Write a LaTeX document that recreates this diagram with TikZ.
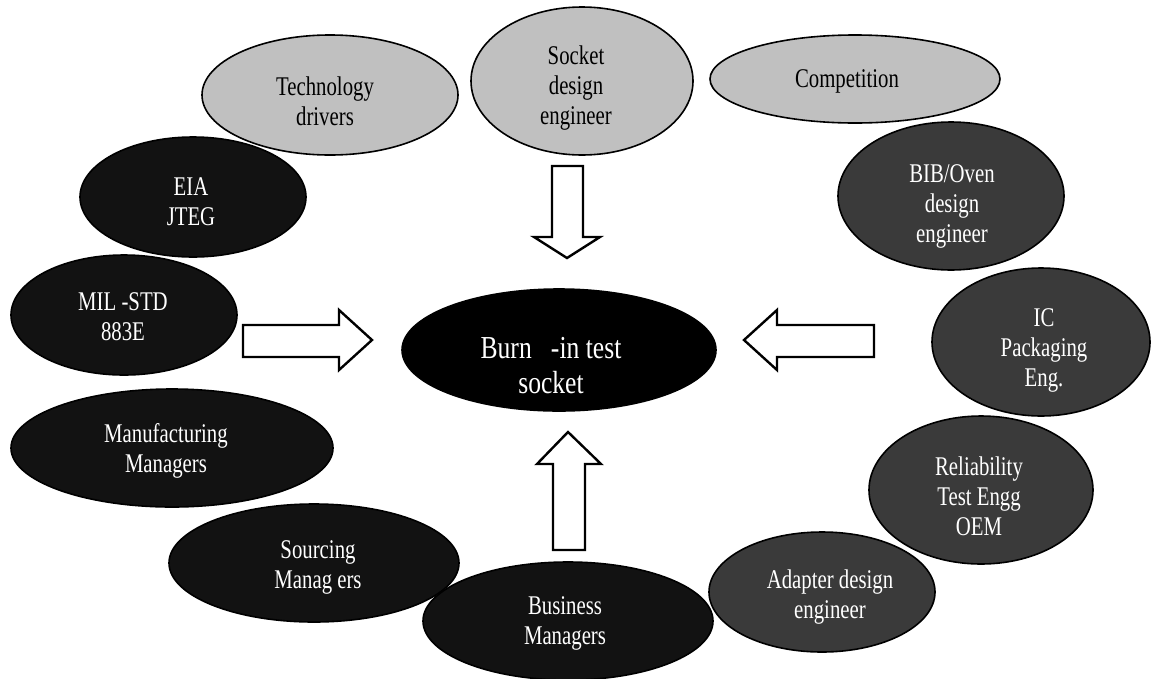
\documentclass[tikz,border=0pt]{standalone}
\usepackage{fontspec}
\setmainfont{Liberation Serif}
\newfontfamily\condfont[FakeStretch=0.77]{Liberation Serif}
\newfontfamily\bigcondfont[FakeStretch=0.8]{Liberation Serif}
\usetikzlibrary{shapes.geometric}
\definecolor{lgray}{RGB}{192,192,192}
\definecolor{dgray}{RGB}{58,58,58}
\definecolor{nblack}{RGB}{18,18,18}
\begin{document}
\begin{tikzpicture}[x=1pt,y=-1pt,
  ell/.style={ellipse, draw=black, line width=1.6pt, inner sep=0pt},
  lightell/.style={ell, fill=lgray},
  darkell/.style={ell, fill=dgray},
  blackell/.style={ell, fill=nblack},
  btxt/.style={align=center, inner sep=0pt, font=\condfont\fontsize{27}{30}\selectfont, text=black},
  wtxt/.style={btxt, text=white},
  bigtxt/.style={wtxt, font=\bigcondfont\fontsize{32}{35}\selectfont},
  blockarrow/.style={draw=black, fill=white, line width=2.4pt, line join=miter}
]
\useasboundingbox (0,0) rectangle (1151,678);
\fill[white] (0,0) rectangle (1151,678);

% top row (light gray)
\node[lightell, minimum width=256pt, minimum height=120pt] (tech) at (330,95) {};
\node[lightell, minimum width=222pt, minimum height=148pt] (socket) at (582,81) {};
\node[lightell, minimum width=290pt, minimum height=88pt] (comp) at (855,79) {};
% left column (black)
\node[blackell, minimum width=226pt, minimum height=120pt] (eia) at (193,197) {};
\node[blackell, minimum width=226pt, minimum height=120pt] (mil) at (124,315) {};
\node[blackell, minimum width=322pt, minimum height=118pt] (manuf) at (172,448) {};
\node[blackell, minimum width=290pt, minimum height=118pt] (sourcing) at (314,563) {};
% right column (dark gray)
\node[darkell, minimum width=226pt, minimum height=148pt] (bib) at (951,196) {};
\node[darkell, minimum width=218pt, minimum height=148pt] (ic) at (1041,342) {};
\node[darkell, minimum width=224pt, minimum height=148pt] (rel) at (981,490) {};
\node[darkell, minimum width=226pt, minimum height=120pt] (adapter) at (822,592) {};
\node[blackell, minimum width=290pt, minimum height=118pt] (business) at (568,621) {};
% centre
\node[ell, fill=black, minimum width=314pt, minimum height=122pt] (central) at (559,350) {};

% texts
\node[btxt] (tech-t) at (325,101) {Technology\\drivers};
\node[btxt] (socket-t) at (576,88) {Socket\\design\\engineer};
\node[btxt] (comp-t) at (847,81) {Competition};
\node[wtxt] (eia-t) at (191,202) {EIA\\JTEG};
\node[wtxt] (mil-t) at (123,317) {MIL -STD\\883E};
\node[wtxt] (manuf-t) at (166,451) {Manufacturing\\Managers};
\node[wtxt] (sourcing-t) at (318,567) {Sourcing\\Manag ers};
\node[wtxt] (bib-t) at (952,206) {BIB/Oven\\design\\engineer};
\node[wtxt] (ic-t) at (1044,350) {IC\\Packaging\\Eng.};
\node[wtxt] (rel-t) at (979,496) {Reliability\\Test Engg\\OEM};
\node[wtxt] (adapter-t) at (830,597) {Adapter design\\engineer};
\node[wtxt] (business-t) at (565,623) {Business\\Managers};
\node[bigtxt] (central-t) at (551,366) {Burn\ \ \ -in test\\socket};

% block arrows
\draw[blockarrow] (552,166) -- (583,166) -- (583,237) -- (600,237) -- (567,258)
  -- (534,237) -- (552,237) -- cycle;
\draw[blockarrow] (553,550) -- (585,550) -- (585,464) -- (601,464) -- (568,432)
  -- (537,464) -- (553,464) -- cycle;
\draw[blockarrow] (243,325) -- (339,325) -- (339,310) -- (372,340) -- (339,370)
  -- (339,357) -- (243,357) -- cycle;
\draw[blockarrow] (874,325) -- (777,325) -- (777,310) -- (744,340) -- (777,370)
  -- (777,357) -- (874,357) -- cycle;
\end{tikzpicture}
\end{document}
